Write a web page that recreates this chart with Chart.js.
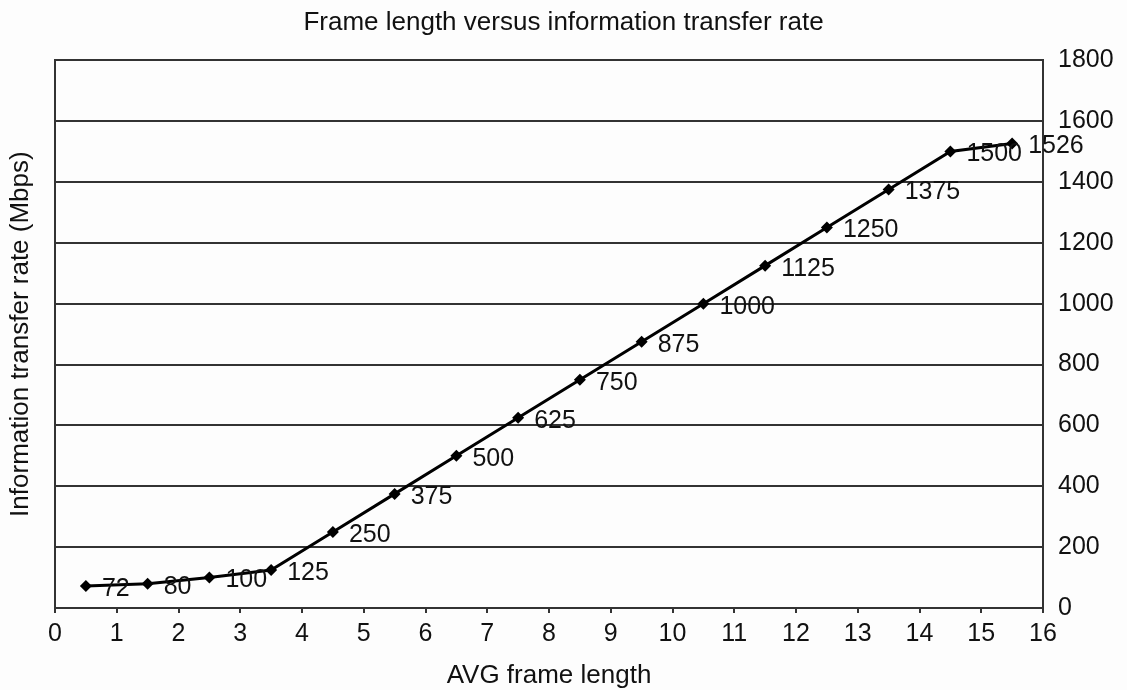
<!DOCTYPE html>
<html>
<head>
<meta charset="utf-8">
<script src="https://cdn.jsdelivr.net/npm/chart.js@4"></script>
<style>
  html, body { margin: 0; padding: 0; background: #fdfdfd; }
  #wrap { width: 1127px; height: 690px; }
</style>
</head>
<body>
<div id="wrap"><canvas id="chart" width="1127" height="690"></canvas></div>
<script>
// values
const frameLength = [0.5, 1.5, 2.5, 3.5, 4.5, 5.5, 6.5, 7.5, 8.5, 9.5, 10.5, 11.5, 12.5, 13.5, 14.5, 15.5];
const transferRate = [72, 80, 100, 125, 250, 375, 500, 625, 750, 875, 1000, 1125, 1250, 1375, 1500, 1526];
const xTicks = [0, 1, 2, 3, 4, 5, 6, 7, 8, 9, 10, 11, 12, 13, 14, 15, 16];
const yTicks = [0, 200, 400, 600, 800, 1000, 1200, 1400, 1600, 1800];

const FONT = "'Liberation Sans', Arial, Helvetica, sans-serif";
const INK = "#111";
const LINE = "#333";

// draws the value next to each point
const pointLabels = {
    id: "pointLabels",
    afterDatasetsDraw(chart) {
        const ctx = chart.ctx;
        const meta = chart.getDatasetMeta(0);
        ctx.save();
        ctx.font = "25px " + FONT;
        ctx.fillStyle = INK;
        ctx.textAlign = "left";
        ctx.textBaseline = "middle";
        meta.data.forEach((pt, i) => {
            ctx.fillText(String(transferRate[i]), pt.x + 16, pt.y + 3);
        });
        ctx.restore();
    }
};

const ctx = document.getElementById("chart").getContext("2d");
const chart = new Chart(ctx, {
    type: "line",
    data: {
        datasets: [
            {
                label: "Information transfer rate",
                data: frameLength.map((x, i) => ({ x: x, y: transferRate[i] })),
                borderColor: "#000",
                backgroundColor: "#000",
                borderWidth: 3,
                pointStyle: "rectRot",
                pointRadius: 6,
                pointBorderWidth: 0,
                tension: 0,
                fill: false,
            },
        ],
    },
    options: {
        responsive: false,
        animation: false,
        layout: { padding: 0 },
        plugins: {
            legend: { display: false },
            tooltip: { enabled: false },
            title: {
                display: true,
                text: "Frame length versus information transfer rate",
                color: INK,
                font: { family: FONT, size: 26, weight: "normal" },
                padding: { top: 7, bottom: 22 },
            },
        },
        scales: {
            x: {
                type: "linear",
                min: 0,
                max: 16,
                afterBuildTicks: (axis) => { axis.ticks = xTicks.map(v => ({ value: v })); },
                afterFit: (axis) => { axis.height = 82; },
                border: { display: true, color: LINE, width: 2 },
                grid: { display: true, drawOnChartArea: false, drawTicks: true, tickLength: 5, color: LINE, lineWidth: 2 },
                ticks: { color: INK, font: { family: FONT, size: 25 }, padding: 6, maxRotation: 0 },
                title: {
                    display: true,
                    text: "AVG frame length",
                    color: INK,
                    font: { family: FONT, size: 26 },
                    padding: { top: 0, bottom: -1 },
                },
            },
            y: {
                position: "right",
                min: 0,
                max: 1800,
                afterBuildTicks: (axis) => { axis.ticks = yTicks.map(v => ({ value: v })); },
                afterFit: (axis) => { axis.width = 84; },
                border: { display: true, color: LINE, width: 2 },
                grid: { display: true, drawTicks: false, color: LINE, lineWidth: 2 },
                ticks: {
                    color: INK,
                    font: { family: FONT, size: 25 },
                    padding: 15,
                    callback: (v) => String(v),
                },
            },
            yLeft: {
                position: "left",
                min: 0,
                max: 1800,
                afterFit: (axis) => { axis.width = 55; },
                border: { display: true, color: LINE, width: 2 },
                grid: { display: false },
                ticks: { display: false },
                title: {
                    display: true,
                    text: "Information transfer rate (Mbps)",
                    color: INK,
                    font: { family: FONT, size: 26 },
                    padding: { top: 5, bottom: 0 },
                },
            },
        },
    },
    plugins: [pointLabels],
});
</script>
</body>
</html>
